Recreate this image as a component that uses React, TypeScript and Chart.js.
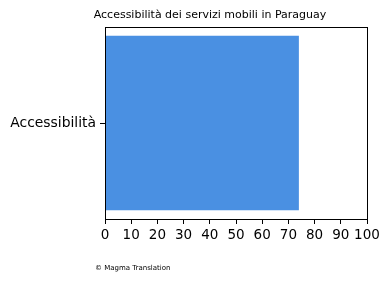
import React, { useEffect, useRef } from "react";
import { Chart, registerables } from "chart.js";

Chart.register(...registerables);

const categories = ["Accessibilità"];
const values = [74];
const xTicks = [0, 10, 20, 30, 40, 50, 60, 70, 80, 90, 100];
const titleText = "Accessibilità dei servizi mobili in Paraguay";
const footerText = "© Magma Translation";

const FONT = "'DejaVu Sans', sans-serif";

const framePlugin = {
  id: "frame",
  afterDatasetsDraw(chart: any) {
    const { ctx, chartArea } = chart;
    ctx.save();
    ctx.strokeStyle = "#000";
    ctx.lineWidth = 1;
    ctx.strokeRect(
      Math.round(chartArea.left) + 0.5,
      Math.round(chartArea.top) + 0.5,
      Math.round(chartArea.right - chartArea.left),
      Math.round(chartArea.bottom - chartArea.top)
    );
    ctx.restore();
  },
};

const textPlugin = {
  id: "texts",
  afterDraw(chart: any) {
    const { ctx } = chart;
    ctx.save();
    ctx.fillStyle = "#000";
    ctx.textBaseline = "middle";
    ctx.textAlign = "center";
    ctx.font = `11px ${FONT}`;
    ctx.fillText(titleText, 210, 15);
    ctx.textAlign = "left";
    ctx.font = `7px ${FONT}`;
    ctx.fillText(footerText, 95, 268);
    ctx.restore();
  },
};

export default function App() {
  const ref = useRef<HTMLCanvasElement | null>(null);
  useEffect(() => {
    document.body.style.margin = "0";
    const canvas = ref.current!;
    const chart = new Chart(canvas, {
      type: "bar",
      data: {
        labels: categories,
        datasets: [
          {
            data: values,
            backgroundColor: "#4A90E2",
            borderWidth: 0,
            barPercentage: 0.91,
            categoryPercentage: 1,
          },
        ],
      },
      options: {
        indexAxis: "y",
        animation: false,
        responsive: false,
        devicePixelRatio: 1,
        layout: { padding: { left: 0, right: 23, top: 27, bottom: 33 } },
        plugins: {
          legend: { display: false },
          tooltip: { enabled: false },
          title: { display: false },
        },
        scales: {
          x: {
            type: "linear",
            min: 0,
            max: 100,
            afterBuildTicks(scale: any) {
              scale.ticks = xTicks.map((v) => ({ value: v }));
            },
            afterFit(scale: any) {
              scale.height = 30;
            },
            grid: {
              drawOnChartArea: false,
              drawTicks: true,
              tickLength: 5,
              color: "#000",
            },
            border: { display: true, color: "#000", width: 1 },
            ticks: {
              color: "#000",
              padding: 3,
              maxRotation: 0,
              autoSkip: false,
              font: { family: FONT, size: 13.5 },
            },
          },
          y: {
            afterFit(scale: any) {
              scale.width = 105;
            },
            grid: {
              drawOnChartArea: false,
              drawTicks: true,
              tickLength: 5,
              color: "#000",
              offset: false,
            },
            border: { display: true, color: "#000", width: 1 },
            ticks: {
              color: "#000",
              padding: 4,
              font: { family: FONT, size: 13.9 },
            },
          },
        },
      },
      plugins: [framePlugin, textPlugin],
    });
    return () => chart.destroy();
  }, []);
  return (
    <div style={{ width: 390, height: 282, background: "#fff" }}>
      <canvas ref={ref} width={390} height={282} style={{ display: "block" }} />
    </div>
  );
}
